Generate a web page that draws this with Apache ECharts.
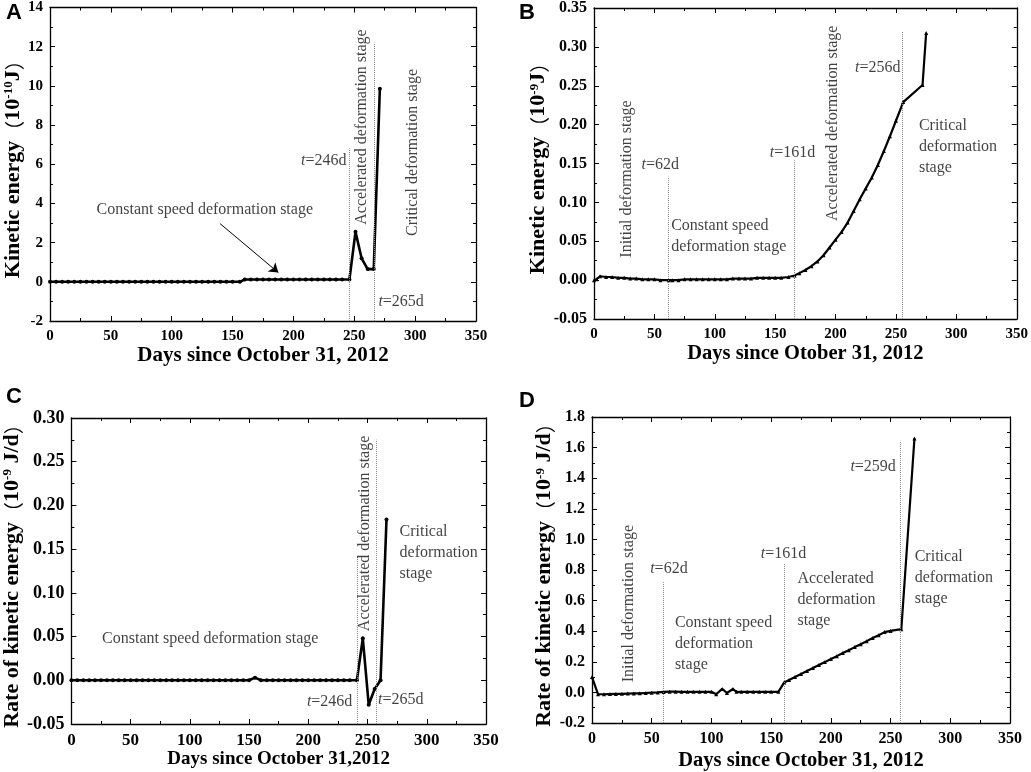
<!DOCTYPE html>
<html>
<head>
<meta charset="utf-8">
<script src="https://cdn.jsdelivr.net/npm/echarts@6/dist/echarts.min.js"></script>
<style>
    html, body { margin: 0; padding: 0; background: #fff; }
    #chart { width: 1031px; height: 772px; }
</style>
</head>
<body>
<div id="chart"></div>
<script>
// panel A: kinetic energy (10^-10 J)
var daysA = [0, 5, 10, 15, 20, 25, 30, 35, 40, 45, 50, 55, 60, 65, 70, 75, 80, 85, 90, 95, 100, 105, 110, 115, 120, 125, 130, 135, 140, 145, 150, 156,
    160, 165, 170, 175, 180, 185, 190, 195, 200, 205, 210, 215, 220, 225, 230, 235, 240, 246, 251, 256, 261, 266, 271];
var energyA = [0, 0, 0, 0, 0, 0, 0, 0, 0, 0, 0, 0, 0, 0, 0, 0, 0, 0, 0, 0, 0, 0, 0, 0, 0, 0, 0, 0, 0, 0, 0, 0,
    0.12, 0.12, 0.12, 0.12, 0.12, 0.12, 0.12, 0.12, 0.12, 0.12, 0.12, 0.12, 0.12, 0.12, 0.12, 0.12, 0.12, 0.12, 2.55, 1.2, 0.65, 0.65, 9.85];

// panel B: kinetic energy (10^-9 J)
var daysB = [0, 2, 5, 10, 15, 20, 25, 30, 35, 40, 45, 50, 55, 62, 65, 70, 75, 80, 85, 90, 95, 100, 105, 110, 115, 120, 125, 130, 135, 140, 145, 150, 155, 161, 166,
    170, 175, 180, 185, 190, 195, 200, 205, 210, 215, 220, 225, 230, 235, 240, 245, 250, 256, 272, 275];
var energyB = [0.000, 0.001, 0.005, 0.004, 0.004, 0.003, 0.003, 0.002, 0.002, 0.001, 0.001, 0.001, 0.000, 0.000, 0.000, 0.000, 0.001, 0.001, 0.001, 0.001, 0.001, 0.001, 0.001, 0.001, 0.002, 0.002, 0.002, 0.002, 0.003, 0.003, 0.003, 0.003, 0.003, 0.004, 0.006,
    0.009, 0.013, 0.018, 0.024, 0.032, 0.042, 0.052, 0.062, 0.074, 0.089, 0.104, 0.118, 0.132, 0.148, 0.166, 0.185, 0.205, 0.229, 0.251, 0.318];

// panel C: rate of kinetic energy (10^-9 J/d)
var daysC = [0, 5, 10, 15, 20, 25, 30, 35, 40, 45, 50, 55, 60, 65, 70, 75, 80, 85, 90, 95, 100, 105, 110, 115, 120, 125, 130, 135, 140, 145, 150, 155, 160,
    165, 170, 175, 180, 185, 190, 195, 200, 205, 210, 215, 220, 225, 230, 235, 241, 246, 251, 256, 261, 266];
var rateC = [0, 0, 0, 0, 0, 0, 0, 0, 0, 0, 0, 0, 0, 0, 0, 0, 0, 0, 0, 0, 0, 0, 0, 0, 0, 0, 0, 0, 0, 0, 0, 0.003, 0,
    0, 0, 0, 0, 0, 0, 0, 0, 0, 0, 0, 0, 0, 0, 0, 0, 0.048, -0.028, -0.010, 0, 0.184];

// panel D: rate of kinetic energy (10^-9 J/d)
var daysD = [0, 5, 10, 15, 20, 25, 30, 35, 40, 45, 50, 55, 60, 65, 70, 75, 80, 85, 90, 95, 100, 104, 109, 113, 118, 121, 125, 130, 135, 140, 145, 150, 156,
    161, 165, 170, 175, 180, 185, 190, 195, 200, 205, 210, 215, 220, 225, 230, 235, 240, 245, 250, 259, 270];
var rateD = [0.10, -0.012, -0.012, -0.011, -0.010, -0.009, -0.008, -0.007, -0.006, -0.004, -0.002, 0.000, 0.003, 0.005, 0.005, 0.004, 0.004, 0.004, 0.004, 0.004, 0.004, -0.012, 0.023, -0.004, 0.022, 0.004, 0.004, 0.004, 0.004, 0.004, 0.004, 0.004, 0.004,
    0.065, 0.081, 0.101, 0.120, 0.140, 0.159, 0.179, 0.198, 0.218, 0.237, 0.257, 0.276, 0.296, 0.315, 0.335, 0.355, 0.374, 0.394, 0.402, 0.413, 1.66];

// x ticks shared by all panels
var xMin = 0, xMax = 350, xStep = 50;

var serif = '"Liberation Serif", "Times New Roman", serif';
var ink = '#000';

var chart = echarts.init(document.getElementById('chart'));

var grids = [
    { left: 50, top: 6, width: 426, height: 315 },
    { left: 594, top: 7, width: 425, height: 312 },
    { left: 71, top: 418, width: 415, height: 306 },
    { left: 592, top: 417, width: 418, height: 308 }
];

var titleRich = {
    b: { fontFamily: serif, fontWeight: 'bold', fontSize: 22, color: ink, verticalAlign: 'bottom' },
    c: { fontFamily: '"Noto Sans CJK SC", sans-serif', fontSize: 20, color: ink, verticalAlign: 'bottom' },
    s: { fontFamily: serif, fontWeight: 'bold', fontSize: 13, color: ink, verticalAlign: 'top' }
};

// bottom/left axes carry labels, top/right mirror the ticks to close the box
var makeX = function (gi, name, nameGap, nameSize, labelSize) {
    var base = {
        gridIndex: gi, type: 'value', min: xMin, max: xMax, interval: xStep,
        axisLine: { onZero: false, lineStyle: { color: ink, width: 1.3 } },
        axisTick: { inside: true, length: 5, lineStyle: { color: ink } },
        minorTick: { show: true, splitNumber: 2, length: 3, lineStyle: { color: ink } },
        splitLine: { show: false }
    };
    var bottom = echarts.util.merge({
        position: 'bottom',
        name: name, nameLocation: 'middle', nameGap: nameGap,
        nameTextStyle: { fontFamily: serif, fontWeight: 'bold', fontSize: nameSize, color: ink },
        axisLabel: { fontFamily: serif, fontWeight: 'bold', fontSize: labelSize, color: ink, margin: 8 }
    }, base, true);
    var top = echarts.util.merge({ position: 'top', axisLabel: { show: false } }, echarts.util.clone(base), true);
    return [bottom, top];
};

var makeY = function (gi, min, max, step, digits, name, nameGap, labelSize) {
    var base = {
        gridIndex: gi, type: 'value', min: min, max: max, interval: step,
        axisLine: { onZero: false, lineStyle: { color: ink, width: 1.3 } },
        axisTick: { inside: true, length: 5, lineStyle: { color: ink } },
        minorTick: { show: true, splitNumber: 2, length: 3, lineStyle: { color: ink } },
        splitLine: { show: false }
    };
    var left = echarts.util.merge({
        position: 'left',
        name: name, nameLocation: 'middle', nameGap: nameGap, nameRotate: 90,
        nameTextStyle: { rich: titleRich },
        axisLabel: {
            fontFamily: serif, fontWeight: 'bold', fontSize: labelSize, color: ink, margin: 7,
            formatter: function (v) { return v.toFixed(digits); }
        }
    }, base, true);
    var right = echarts.util.merge({ position: 'right', axisLabel: { show: false } }, echarts.util.clone(base), true);
    return [left, right];
};

var xAxes = [].concat(
    makeX(0, 'Days since October 31, 2012', 22, 21, 15),
    makeX(1, 'Days since Otober 31, 2012', 21, 20.5, 15),
    makeX(2, 'Days since October 31,2012', 26, 19, 17),
    makeX(3, 'Days since October 31, 2012', 27, 20.5, 16)
);
var yAxes = [].concat(
    makeY(0, -2, 14, 2, 0, '{b|Kinetic energy}{c|（}{b|10}{s|-10}{b|J}{c|）}', 24, 15),
    makeY(1, -0.05, 0.35, 0.05, 2, '{b|Kinetic energy}{c|（}{b|10}{s|-9}{b|J}{c|）}', 44, 16),
    makeY(2, -0.05, 0.30, 0.05, 2, '{b|Rate of kinetic energy}{c|（}{b|10}{s|-9}{b| J/d}{c|）}', 39, 18),
    makeY(3, -0.2, 1.8, 0.2, 1, '{b|Rate of kinetic energy}{c|（}{b|10}{s|-9}{b| J/d}{c|）}', 30, 16)
);

var pairs = function (xs, ys) {
    return xs.map(function (x, i) { return [x, ys[i]]; });
};

// vertical dotted stage boundaries
var dotted = function (x, y0, y1) {
    return [{ coord: [x, y0] }, { coord: [x, y1] }];
};

var dataLine = function (gi, xs, ys, symbol, size, width, lines) {
    return {
        type: 'line', xAxisIndex: gi * 2, yAxisIndex: gi * 2,
        data: pairs(xs, ys),
        symbol: symbol, symbolSize: size, showSymbol: true,
        itemStyle: { color: ink },
        lineStyle: { color: ink, width: width },
        silent: true,
        markLine: {
            silent: true, symbol: 'none', animation: false,
            label: { show: false },
            lineStyle: { type: 'dotted', color: '#8a8a8a', width: 1 },
            data: lines
        }
    };
};

var noteRich = {
    i: { fontFamily: serif, fontStyle: 'italic', fontSize: 16, color: '#111' },
    n: { fontFamily: serif, fontSize: 16, color: '#111' }
};

// text notes placed in data coordinates
var note = function (x, y, text, rotate, align) {
    return {
        value: [x, y],
        label: {
            show: true, position: 'inside', formatter: text,
            rotate: rotate || 0, align: align || 'center', verticalAlign: 'middle',
            fontFamily: serif, fontSize: 16, lineHeight: 21, color: '#111', rich: noteRich
        }
    };
};

var notes = function (gi, items) {
    return {
        type: 'scatter', xAxisIndex: gi * 2, yAxisIndex: gi * 2,
        symbolSize: 0, silent: true, z: 5,
        data: items
    };
};

var seriesA = dataLine(0, daysA, energyA, 'circle', 4, 2.6, [
    dotted(246, -2, 6.8),
    dotted(266, -2, 12.2),
    [{ coord: [139.7, 2.97], symbol: 'none', lineStyle: { type: 'solid', color: ink, width: 1 } },
     { coord: [187.6, 0.47], symbol: 'arrow', symbolSize: 9 }]
]);
var seriesB = dataLine(1, daysB, energyB, 'triangle', 4, 2.2, [
    dotted(61.5, -0.05, 0.133),
    dotted(166, -0.05, 0.154),
    dotted(255, -0.05, 0.32)
]);
var seriesC = dataLine(2, daysC, rateC, 'circle', 4, 2.6, [
    dotted(241, -0.05, 0.142),
    dotted(257, -0.05, 0.275)
]);
var seriesD = dataLine(3, daysD, rateD, 'triangle', 4, 2.2, [
    dotted(59.7, -0.2, 0.72),
    dotted(161, -0.2, 0.845),
    dotted(258.5, -0.2, 1.645)
]);

var option = {
    animation: false,
    grid: grids,
    xAxis: xAxes,
    yAxis: yAxes,
    graphic: [
        { type: 'text', left: 6, top: 2, style: { text: 'A', font: 'bold 22px "Liberation Sans", Arial, sans-serif', fill: ink } },
        { type: 'text', left: 519, top: 2, style: { text: 'B', font: 'bold 22px "Liberation Sans", Arial, sans-serif', fill: ink } },
        { type: 'text', left: 6, top: 386, style: { text: 'C', font: 'bold 22px "Liberation Sans", Arial, sans-serif', fill: ink } },
        { type: 'text', left: 519, top: 390, style: { text: 'D', font: 'bold 22px "Liberation Sans", Arial, sans-serif', fill: ink } }
    ],
    series: [
        seriesA, seriesB, seriesC, seriesD,
        notes(0, [
            note(38.3, 3.7, 'Constant speed deformation stage', 0, 'left'),
            note(225, 6.2, '{i|t}{n|=246d}'),
            note(256, 7.9, 'Accelerated deformation stage', 90),
            note(297.7, 6.6, 'Critical deformation stage', 90),
            note(269.8, -1.02, '{i|t}{n|=265d}', 0, 'left')
        ]),
        notes(1, [
            note(26.9, 0.130, 'Initial deformation stage', 90),
            note(54.9, 0.148, '{i|t}{n|=62d}'),
            note(63.9, 0.056, 'Constant speed\ndeformation stage', 0, 'left'),
            note(164.3, 0.164, '{i|t}{n|=161d}'),
            note(197.8, 0.2017, 'Accelerated deformation stage', 90),
            note(235, 0.273, '{i|t}{n|=256d}'),
            note(269, 0.171, 'Critical\ndeformation\nstage', 0, 'left')
        ]),
        notes(2, [
            note(25.9, 0.048, 'Constant speed deformation stage', 0, 'left'),
            note(247.6, 0.168, 'Accelerated deformation stage', 90),
            note(277, 0.146, 'Critical\ndeformation\nstage', 0, 'left'),
            note(218, -0.025, '{i|t}{n|=246d}'),
            note(258.9, -0.022, '{i|t}{n|=265d}', 0, 'left')
        ]),
        notes(3, [
            note(30.4, 0.58, 'Initial deformation stage', 90),
            note(64.4, 0.81, '{i|t}{n|=62d}'),
            note(69.4, 0.318, 'Constant speed\ndeformation\nstage', 0, 'left'),
            note(160.3, 0.903, '{i|t}{n|=161d}'),
            note(172, 0.608, 'Accelerated\ndeformation\nstage', 0, 'left'),
            note(235.4, 1.473, '{i|t}{n|=259d}'),
            note(270.2, 0.751, 'Critical\ndeformation\nstage', 0, 'left')
        ])
    ]
};

chart.setOption(option);
</script>
</body>
</html>
